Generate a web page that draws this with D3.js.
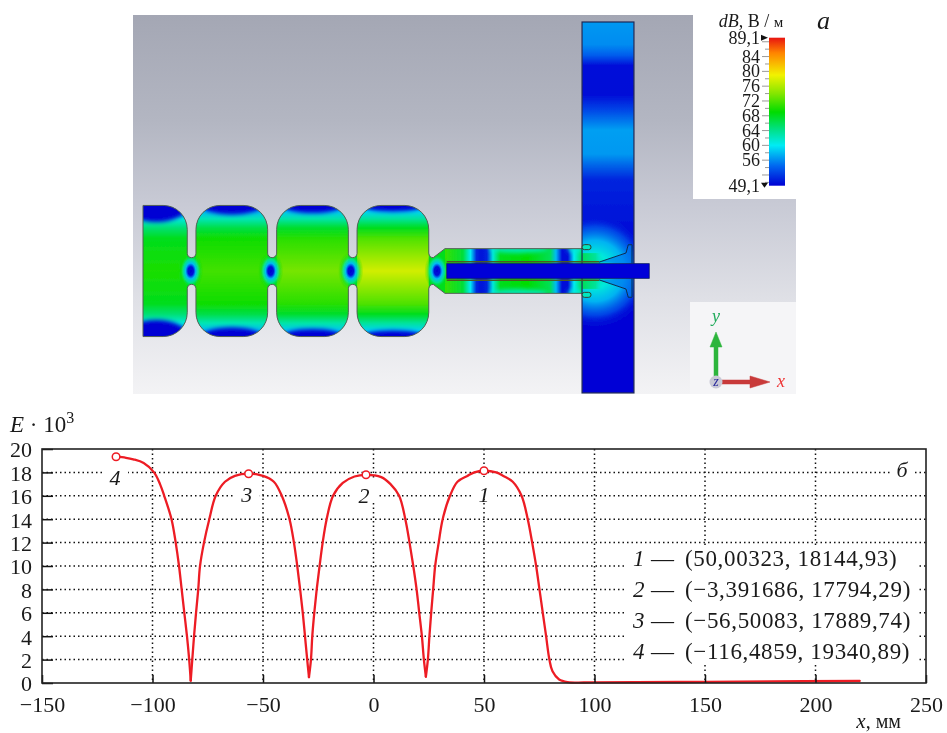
<!DOCTYPE html>
<html>
<head>
<meta charset="utf-8">
<script src="https://cdn.jsdelivr.net/npm/d3@7"></script>
<style>
  body { margin: 0; background: #fff; }
  svg { display: block; }
  text { font-family: "Liberation Serif", serif; fill: #1a1a1a; }
  .it { font-style: italic; }
</style>
</head>
<body>
<svg id="chart" width="947" height="733"></svg>
<script>
// --- plot b: field along the axis, E * 10^3 against x, mm
const xValues = [-116.49, -112, -108.7, -104, -99.3, -96.6, -94.7, -91.4, -89.5, -88, -86.8, -85.6, -84.4, -83.4, -82.7,
  -82, -81.2, -80.3, -79.3, -78.5, -76.7, -74.3, -71.4, -67.2, -62.7, -56.5, -50, -45.1, -41.5, -38, -36, -34.5, -33.2, -32, -31, -30, -29.2,
  -28.3, -27.7, -26.8, -25.7, -24.4, -23, -21.2, -18.3, -13.9, -8.6, -3.39, 3.5, 7.7, 11.6, 14.4, 16.3, 18, 19.5, 20.7, 21.9, 22.8, 23.7,
  24.6, 25.3, 26.1, 27, 27.9, 29.5, 31.3, 34.6, 38, 42.5, 45.6, 50, 55.5, 58.8, 63, 67, 69.8, 71.8, 73.6, 75.1, 76.6, 78.1, 79.6, 81, 84, 87.8, 100, 150, 220];
const eValues = [19.34, 19.25, 19.12, 18.8, 18, 17, 16, 14, 12, 10, 8, 6, 4, 2, 0.2,
  2, 4, 6, 8, 10, 12, 14, 16, 17.2, 17.7, 17.89, 17.7, 17.2, 16, 14, 12, 10, 8, 6, 4, 2, 0.5,
  2, 4, 6, 8, 10, 12, 14, 16, 17.1, 17.65, 17.79, 17.6, 17, 16, 14, 12, 10, 8, 6, 4, 2, 0.55,
  2, 4, 6, 8, 10, 12, 14, 16, 17.2, 17.7, 18, 18.14, 18, 17.7, 17.2, 16, 14, 12, 10, 8, 6, 4, 2, 1, 0.3, 0.08, 0.05, 0.1, 0.18];
const dipIndex = [14, 36, 58]; // the curve has sharp dips here, it is drawn in pieces between them
const peakNames = ["1", "2", "3", "4"];
const peakX = [50.00323, -3.391686, -56.50083, -116.4859];
const peakE = [18.14493, 17.79429, 17.88974, 19.34089];
const peakText = ["(50,00323, 18144,93)", "(\u22123,391686, 17794,29)", "(\u221256,50083, 17889,74)", "(\u2212116,4859, 19340,89)"];
const xTicks = [-150, -100, -50, 0, 50, 100, 150, 200, 250];
const yTicks = [0, 2, 4, 6, 8, 10, 12, 14, 16, 18, 20];

// --- plot a: colour bar, dB V/m
const barTicks = [84, 80, 76, 72, 68, 64, 60, 56];
const barEnds = [89.1, 49.1];
const barLevels = [49.1, 54.5, 60, 64.5, 69, 74, 79, 85, 89.1];
const barColors = ["#0000d4", "#0068f0", "#00ecf4", "#00e080", "#00dc00", "#84e600", "#f2f200", "#ff8400", "#e81410"];

// --- plot a: structure outline in mm, x from the closed end, y from the axis
const cavityLeft = [0, 35.3, 89.1, 142.7];
const cavityRight = [29.5, 83.1, 136.9, 190.5];
const cavityHalf = 43.7, irisHalf = 8.9, cornerR = 16;
const coaxStart = 201.3, coaxEnd = 292.7, coaxHalf = 14.9;
const guideLeft = 292.7, guideRight = 327.3, guideTop = -166, guideBottom = 81.3;
const pinStart = 202.5, pinEnd = 337.5, pinHalf = 4.9;
const nodeX = [31.8, 85.1, 138.5, 196];

// field levels, dB, from the wall to the axis (offset in mm from the wall)
const wallOffset = [0, 4, 9, 15, 22, 43.7];
const cavityField = [
  [54, 57, 61, 65, 68, 70],
  [54, 58, 62.5, 66.5, 69.5, 71.5],
  [55, 58.5, 63, 67.5, 70.5, 73.5],
  [55, 59, 63.5, 68, 72, 77.5]
];
const bandDepth = [11, 6, 5, 4];
const coaxOffset = [0, 12, 17, 21, 24, 28, 32, 37, 55, 70, 74, 78, 82, 86, 91.4];
const coaxField = [71, 67, 60, 51, 50, 51, 61, 68, 69, 66, 58, 50, 50, 60, 66];
const coaxLobes = [250, 288];
const coaxLobeHalf = [19.5, 5];
const guideOffset = [0, 15, 22, 29, 48, 58, 72, 88, 105, 150, 247.3];
const guideField = [56.5, 56, 54, 50, 49.6, 52.5, 56.8, 56.5, 51, 49.4, 49.4];

const svg = d3.select("#chart");
const defs = svg.append("defs");

const colorOf = d3.scaleLinear().domain(barLevels).range(barColors).clamp(true);
const sx = d3.scaleLinear().domain([0, 400]).range([143, 743]);
const sy = d3.scaleLinear().domain([-100, 100]).range([121, 421]);
const mm = d => sx(d) - sx(0);

function addGradient(id, vertical, x0, x1, offsets, levels) {
  const g = defs.append("linearGradient").attr("id", id)
    .attr("gradientUnits", "userSpaceOnUse")
    .attr("x1", vertical ? 0 : x0).attr("x2", vertical ? 0 : x1)
    .attr("y1", vertical ? x0 : 0).attr("y2", vertical ? x1 : 0);
  const span = d3.max(offsets);
  offsets.forEach((o, i) => {
    g.append("stop").attr("offset", o / span).attr("stop-color", colorOf(levels[i]));
  });
}

defs.append("filter").attr("id", "soft").attr("x", "-5%").attr("y", "-5%").attr("width", "110%").attr("height", "110%")
  .append("feGaussianBlur").attr("stdDeviation", 0.55);
defs.append("filter").attr("id", "band").attr("x", "-30%").attr("y", "-100%").attr("width", "160%").attr("height", "300%")
  .append("feGaussianBlur").attr("stdDeviation", 2.2);

// ---- grey backdrop
const back = defs.append("linearGradient").attr("id", "back").attr("x1", 0).attr("x2", 0).attr("y1", 0).attr("y2", 1);
[[0, "#a4a7b4"], [0.28, "#b3b6c2"], [0.5, "#c8cad5"], [0.75, "#dfe0e6"], [1, "#f3f3f5"]].forEach(s => {
  back.append("stop").attr("offset", s[0]).attr("stop-color", s[1]);
});
svg.append("rect").attr("x", 133).attr("y", 15).attr("width", 663).attr("height", 379).attr("fill", "url(#back)");
svg.append("rect").attr("x", 693).attr("y", 0).attr("width", 110).attr("height", 199).attr("fill", "#fff");
svg.append("rect").attr("x", 690).attr("y", 302).attr("width", 106).attr("height", 92).attr("fill", "#f5f5f7");

// ---- structure outline: one open path for each half
function halfOutline(p, s) {
  const dir = s < 0; // arcs pass under the slot on the upper half
  p.moveTo(sx(0), sy(0));
  p.lineTo(sx(0), sy(s * cavityHalf));
  cavityLeft.forEach((l, i) => {
    const r = cavityRight[i];
    if (i > 0) {
      p.arcTo(sx(l), sy(s * cavityHalf), sx(l + cornerR), sy(s * cavityHalf), mm(cornerR));
    }
    p.arcTo(sx(r), sy(s * cavityHalf), sx(r), sy(s * (cavityHalf - cornerR)), mm(cornerR));
    if (i < 3) {
      const next = cavityLeft[i + 1];
      const rad = mm(next - r) / 2;
      p.lineTo(sx(r), sy(s * irisHalf) + (s < 0 ? -rad : rad));
      p.arc(sx((r + next) / 2), sy(s * irisHalf) + (s < 0 ? -rad : rad), rad, Math.PI, 0, dir);
      p.lineTo(sx(next), sy(s * (cavityHalf - cornerR)));
    } else {
      p.lineTo(sx(r), sy(s * (irisHalf + 3)));
      p.quadraticCurveTo(sx(r + 0.5), sy(s * irisHalf), sx(r + 3), sy(s * irisHalf));
      p.lineTo(sx(coaxStart), sy(s * coaxHalf));
      p.lineTo(sx(coaxEnd), sy(s * coaxHalf));
    }
  });
  return p;
}
const outlineUp = halfOutline(d3.path(), -1).toString();
const outlineDown = halfOutline(d3.path(), 1).toString();
const closing = `L${sx(coaxEnd)},${sy(0)}Z`;
defs.append("clipPath").attr("id", "bodyClip").append("path").attr("d", outlineUp + closing + outlineDown + closing);
defs.append("clipPath").attr("id", "guideClip").append("rect")
  .attr("x", sx(guideLeft)).attr("y", sy(guideTop)).attr("width", mm(guideRight - guideLeft)).attr("height", mm(guideBottom - guideTop));

const field = svg.append("g").attr("filter", "url(#soft)");
const body = field.append("g").attr("clip-path", "url(#bodyClip)");

body.append("rect").attr("x", sx(0)).attr("y", sy(-cavityHalf)).attr("width", mm(coaxEnd)).attr("height", mm(2 * cavityHalf))
  .attr("fill", colorOf(68));

// cavities: the levels are mirrored about the axis
cavityLeft.forEach((l, i) => {
  const off = wallOffset.concat(wallOffset.slice(0, -1).reverse().map(o => 2 * cavityHalf - o));
  const lev = cavityField[i].concat(cavityField[i].slice(0, -1).reverse());
  addGradient("cav" + i, true, sy(-cavityHalf), sy(cavityHalf), off, lev);
  const wide = (cavityRight[i] - l);
  body.append("rect").attr("x", sx(l)).attr("y", sy(-cavityHalf)).attr("width", mm(wide)).attr("height", mm(2 * cavityHalf))
    .attr("fill", `url(#cav${i})`);
  [-1, 1].forEach(s => {
    body.append("ellipse")
      .attr("cx", sx(l + wide * (i === 0 ? 0.3 : 0.5)))
      .attr("cy", sy(s * cavityHalf))
      .attr("rx", mm(wide * (i === 0 ? 0.72 : 0.42)))
      .attr("ry", mm(bandDepth[i]))
      .attr("fill", colorOf(49.1))
      .attr("filter", "url(#band)");
  });
});

// coax section
addGradient("coax", false, sx(coaxStart), sx(coaxEnd), coaxOffset, coaxField);
body.append("rect").attr("x", sx(coaxStart)).attr("y", sy(-coaxHalf)).attr("width", mm(coaxEnd - coaxStart)).attr("height", mm(2 * coaxHalf))
  .attr("fill", "url(#coax)");
[-1, 1].forEach(s => {
  coaxLobes.forEach((c, i) => {
    body.append("ellipse").attr("cx", sx(c)).attr("cy", sy(s * coaxHalf))
      .attr("rx", mm(coaxLobeHalf[i])).attr("ry", mm(3))
      .attr("fill", colorOf(61)).attr("opacity", 0.8).attr("filter", "url(#band)");
  });
});

// nodes at the irises
const node = defs.append("radialGradient").attr("id", "node");
[[0, 49.1, 1], [0.22, 50, 1], [0.4, 58, 1], [0.6, 63, 0.8], [0.8, 68, 0.35], [1, 68, 0]].forEach(s => {
  node.append("stop").attr("offset", s[0]).attr("stop-color", colorOf(s[1])).attr("stop-opacity", s[2]);
});
nodeX.forEach(x => {
  body.append("ellipse").attr("cx", sx(x)).attr("cy", sy(0))
    .attr("rx", mm(8.5)).attr("ry", mm(13)).attr("fill", "url(#node)");
});

// crossing guide
addGradient("guide", true, sy(guideTop), sy(guideBottom), guideOffset, guideField);
const guide = field.append("g").attr("clip-path", "url(#guideClip)");
guide.append("rect").attr("x", sx(guideLeft)).attr("y", sy(guideTop)).attr("width", mm(guideRight - guideLeft)).attr("height", mm(guideBottom - guideTop))
  .attr("fill", "url(#guide)");
const blob = defs.append("radialGradient").attr("id", "blob");
[[0, 64, 1], [0.3, 61, 1], [0.55, 58, 0.95], [0.8, 54, 0.7], [1, 50, 0]].forEach(s => {
  blob.append("stop").attr("offset", s[0]).attr("stop-color", colorOf(s[1])).attr("stop-opacity", s[2]);
});
guide.append("circle").attr("cx", sx(301)).attr("cy", sy(0)).attr("r", mm(37)).attr("fill", "url(#blob)");
// the coax field runs on a little into the guide
const spill = defs.append("linearGradient").attr("id", "spill");
[[0, 66, 1], [0.6, 64, 0.8], [1, 60, 0]].forEach(s => {
  spill.append("stop").attr("offset", s[0]).attr("stop-color", colorOf(s[1])).attr("stop-opacity", s[2]);
});
guide.append("rect").attr("x", sx(guideLeft)).attr("y", sy(-coaxHalf * 0.8)).attr("width", mm(15)).attr("height", mm(coaxHalf * 1.6))
  .attr("fill", "url(#spill)");

// outline and inner conductor
field.append("path").attr("d", outlineUp).attr("fill", "none").attr("stroke", "#566058").attr("stroke-width", 1);
field.append("path").attr("d", outlineDown).attr("fill", "none").attr("stroke", "#566058").attr("stroke-width", 1);
field.append("rect").attr("x", sx(guideLeft)).attr("y", sy(guideTop)).attr("width", mm(guideRight - guideLeft)).attr("height", mm(guideBottom - guideTop))
  .attr("fill", "none").attr("stroke", "#1c2a58").attr("stroke-width", 1.2);
[-1, 1].forEach(s => {
  // opening of the outer conductor into the guide
  field.append("rect").attr("x", sx(guideLeft)).attr("y", sy(s * (coaxHalf + 1)) - 2.5)
    .attr("width", mm(6)).attr("height", 5).attr("rx", 2.5)
    .attr("fill", colorOf(62)).attr("stroke", "#33402c").attr("stroke-width", 1);
  // walls along the conductor
  field.append("line").attr("x1", sx(pinStart)).attr("x2", sx(304))
    .attr("y1", sy(s * (pinHalf + 1.3))).attr("y2", sy(s * (pinHalf + 1.3)))
    .attr("stroke", "#4d5a22").attr("stroke-width", 1.6);
  // cone
  field.append("path")
    .attr("d", d3.line()([[sx(304), sy(s * (pinHalf + 1))], [sx(322), sy(s * 12)], [sx(323.5), sy(s * 17.5)], [sx(326), sy(s * 17.5)], [sx(326), sy(s * pinHalf)]]))
    .attr("fill", colorOf(55)).attr("fill-opacity", 0.65).attr("stroke", "#0c2c50").attr("stroke-width", 1);
});
field.append("rect").attr("x", sx(pinStart)).attr("y", sy(-pinHalf)).attr("width", mm(pinEnd - pinStart)).attr("height", mm(2 * pinHalf))
  .attr("fill", "#0000d8").attr("stroke", "#14206a").attr("stroke-width", 0.8);

// ---- colour bar
const barY = d3.scaleLinear().domain([49.1, 89.1]).range([185.7, 37.7]);
const barGrad = defs.append("linearGradient").attr("id", "bar").attr("x1", 0).attr("x2", 0).attr("y1", 1).attr("y2", 0);
barLevels.forEach((v, i) => {
  barGrad.append("stop").attr("offset", (v - 49.1) / 40).attr("stop-color", barColors[i]);
});
svg.append("rect").attr("x", 769).attr("y", barY(89.1)).attr("width", 16).attr("height", barY(49.1) - barY(89.1)).attr("fill", "url(#bar)");
d3.range(50, 89, 2).forEach(v => {
  svg.append("line").attr("x1", v % 4 === 0 ? 762 : 765).attr("x2", 769).attr("y1", barY(v)).attr("y2", barY(v))
    .attr("stroke", "#999").attr("stroke-width", 1);
});
barTicks.concat(barEnds).forEach(v => {
  svg.append("text").attr("x", 760).attr("y", barY(v) + 6).attr("text-anchor", "end").attr("font-size", 18)
    .text(String(v).replace(".", ","));
});
barEnds.forEach((v, i) => {
  const y = barY(v);
  svg.append("path").attr("d", d3.line()(i === 0 ? [[761, y - 3], [768, y], [761, y + 3]] : [[761, y - 3], [768, y - 3], [764.5, y + 2]]))
    .attr("fill", "#111");
});
const barTitle = svg.append("text").attr("x", 751).attr("y", 27).attr("text-anchor", "middle").attr("font-size", 18);
barTitle.append("tspan").attr("class", "it").text("dB");
barTitle.append("tspan").text(", В / ");
barTitle.append("tspan").attr("font-size", 15).text("м");
svg.append("text").attr("class", "it").attr("x", 817).attr("y", 29).attr("font-size", 26).text("a");

// ---- coordinate triad
const arrow = (pts, fill) => svg.append("path").attr("d", d3.line()(pts) + "Z").attr("fill", fill).attr("stroke", fill).attr("stroke-width", 0.5);
arrow([[714, 376], [714, 347], [710, 347], [716, 332], [722, 347], [718, 347], [718, 376]], "#2cb53c");
arrow([[722, 380], [750, 380], [750, 376], [770, 382], [750, 388], [750, 384], [722, 384]], "#c83a3a");
svg.append("circle").attr("cx", 716).attr("cy", 382).attr("r", 6.5).attr("fill", "#c9c9d6");
svg.append("text").attr("class", "it").attr("x", 716).attr("y", 386).attr("text-anchor", "middle").attr("font-size", 14).style("fill", "#2c2c9c").text("z");
svg.append("text").attr("class", "it").attr("x", 716).attr("y", 322).attr("text-anchor", "middle").attr("font-size", 18).style("fill", "#1faa5a").text("y");
svg.append("text").attr("class", "it").attr("x", 781).attr("y", 387).attr("text-anchor", "middle").attr("font-size", 18).style("fill", "#ee3333").text("x");

// ---- plot b
const x = d3.scaleLinear().domain([-150, 250]).range([42, 926]);
const y = d3.scaleLinear().domain([0, 20]).range([683, 449]);
const plot = svg.append("g");

const dotted = plot.append("g").attr("stroke", "#111").attr("stroke-width", 1.5).attr("stroke-dasharray", "1.5 3");
xTicks.slice(1, -1).forEach(t => {
  dotted.append("line").attr("x1", x(t)).attr("x2", x(t)).attr("y1", y(20)).attr("y2", y(0));
});
yTicks.slice(1, -1).forEach(t => {
  dotted.append("line").attr("x1", x(-150)).attr("x2", x(250)).attr("y1", y(t)).attr("y2", y(t));
});

// white patches behind the labels cut the grid
const labelDx = [0, -2, -2, -1];
const labelY = [494, 495, 494, 477];
peakNames.forEach((n, i) => {
  const cx = x(peakX[i]) + labelDx[i];
  plot.append("rect").attr("x", cx - 13).attr("y", labelY[i] - 17).attr("width", 26).attr("height", 22).attr("fill", "#fff");
});
plot.append("rect").attr("x", 627).attr("y", 546).attr("width", 291).attr("height", 119).attr("fill", "#fff");
plot.append("rect").attr("x", 892).attr("y", 458).attr("width", 22).attr("height", 20).attr("fill", "#fff");

const line = d3.line().x(d => x(d[0])).y(d => y(d[1])).curve(d3.curveCatmullRom.alpha(0.5));
const points = xValues.map((d, i) => [d, eValues[i]]);
[0].concat(dipIndex).forEach((start, k) => {
  const stop = k < dipIndex.length ? dipIndex[k] + 1 : points.length;
  plot.append("path").attr("d", line(points.slice(start, stop))).attr("fill", "none")
    .attr("stroke", "#ed1c24").attr("stroke-width", 2.3).attr("stroke-linecap", "round");
});

plot.selectAll("circle.peak").data(peakX).join("circle").attr("class", "peak")
  .attr("cx", d => x(d)).attr("cy", (d, i) => y(peakE[i])).attr("r", 3.8)
  .attr("fill", "#fff").attr("stroke", "#ed1c24").attr("stroke-width", 1.5);

peakNames.forEach((n, i) => {
  plot.append("text").attr("class", "it").attr("x", x(peakX[i]) + labelDx[i]).attr("y", labelY[i] + 8)
    .attr("text-anchor", "middle").attr("font-size", 22).text(n);
  const row = plot.append("text").attr("y", 566 + i * 31).attr("font-size", 23);
  row.append("tspan").attr("class", "it").attr("x", 633).text(n);
  row.append("tspan").attr("x", 651).text("\u2014");
  row.append("tspan").attr("x", 685).attr("letter-spacing", 0.65).text(peakText[i]);
});

// axes
const xAxis = d3.axisBottom(x).tickValues(xTicks).tickSizeInner(-8).tickSizeOuter(0).tickPadding(13).tickFormat(d3.format("d"));
const yAxis = d3.axisLeft(y).tickValues(yTicks).tickSizeInner(-11).tickSizeOuter(0).tickPadding(10);
const gx = plot.append("g").attr("transform", `translate(0,${y(0)})`).call(xAxis);
const gy = plot.append("g").attr("transform", `translate(${x(-150)},0)`).call(yAxis);
[gx, gy].forEach(g => {
  g.selectAll("text").attr("font-family", null).attr("font-size", 22).style("fill", "#1a1a1a");
  g.selectAll("line").attr("stroke", "#111").attr("stroke-width", 1.5);
  g.select(".domain").remove();
});
gy.selectAll("text").attr("dy", "0.36em");
plot.append("rect").attr("x", x(-150)).attr("y", y(20)).attr("width", x(250) - x(-150)).attr("height", y(0) - y(20))
  .attr("fill", "none").attr("stroke", "#222").attr("stroke-width", 1.6);

plot.append("text").attr("class", "it").attr("x", 902).attr("y", 477).attr("text-anchor", "middle").attr("font-size", 22).text("б");
const yTitle = plot.append("text").attr("x", 10).attr("y", 432).attr("font-size", 23);
yTitle.append("tspan").attr("class", "it").text("E");
yTitle.append("tspan").text(" \u00b7 10");
yTitle.append("tspan").attr("font-size", 16).attr("dy", -9).text("3");
const xTitle = plot.append("text").attr("x", 901).attr("y", 728).attr("text-anchor", "end").attr("font-size", 20);
xTitle.append("tspan").attr("class", "it").attr("font-size", 21).text("x");
xTitle.append("tspan").text(", мм");
</script>
</body>
</html>
